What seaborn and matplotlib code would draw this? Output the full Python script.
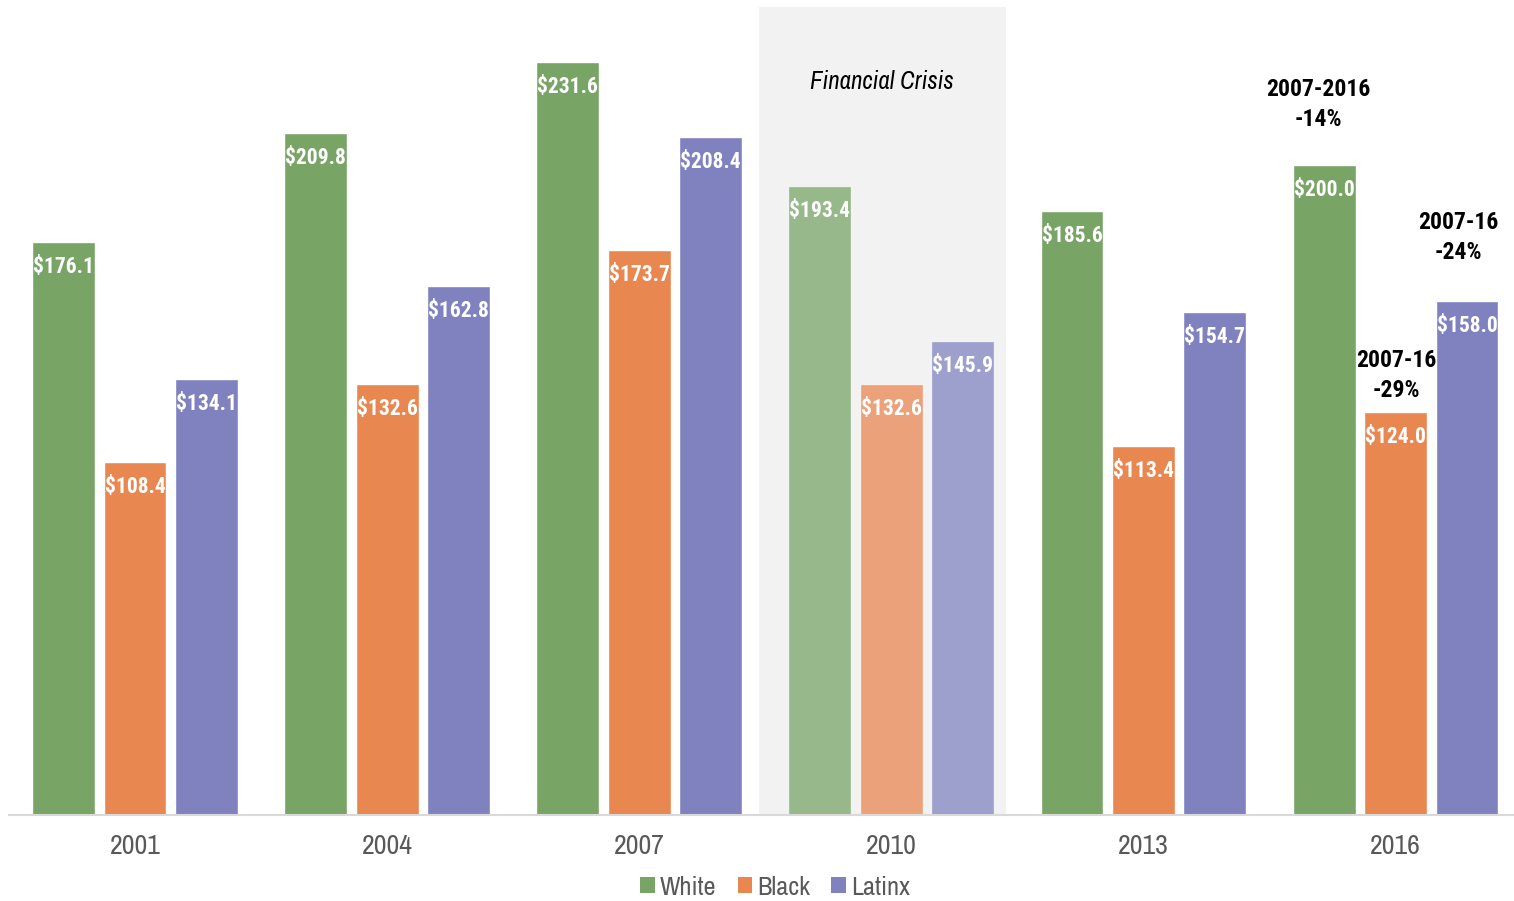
import matplotlib
matplotlib.use("Agg")
import matplotlib.pyplot as plt
from matplotlib.patches import Patch
import seaborn as sns
import pandas as pd

# Median household net worth by group ($ thousands)
years = ["2001", "2004", "2007", "2010", "2013", "2016"]
groups = ["White", "Black", "Latinx"]
white = [176.1, 209.8, 231.6, 193.4, 185.6, 200.0]
black = [108.4, 132.6, 173.7, 132.6, 113.4, 124.0]
latinx = [134.1, 162.8, 208.4, 145.9, 154.7, 158.0]
colors = ["#78A466", "#E98751", "#7F82BF"]
crisis_year = "2010"
crisis_label = "Financial Crisis"
change_labels = ["2007-2016", "2007-16", "2007-16"]

df = pd.DataFrame({
    "year": years * 3,
    "group": [g for g in groups for _ in years],
    "value": white + black + latinx,
})

sns.set_theme(style="white")
plt.rcParams["font.family"] = ["Archivo Narrow", "Roboto Condensed", "DejaVu Sans"]
BOLD = ["Roboto Condensed", "DejaVu Sans"]

fig = plt.figure(figsize=(15.14, 9.01), dpi=100)
ax = fig.add_axes([9 / 1514, 86 / 901, 1505 / 1514, 813 / 901])

# shaded band behind the crisis year
ax.axvspan(2.475, 3.455, ymax=248.5 / 250, color="#F2F2F2", lw=0, zorder=0)

sns.barplot(data=df, x="year", y="value", hue="group", palette=colors,
            width=0.85, gap=0.12, saturation=1, ax=ax, zorder=2, legend=False)

ci = years.index(crisis_year)
for container in ax.containers:
    for i, bar in enumerate(container):
        if i == ci:
            bar.set_alpha(0.74)
        h = bar.get_height()
        ax.annotate(f"${h:.1f}", (bar.get_x() + bar.get_width() / 2, h),
                    xytext=(0, -25), textcoords="offset pixels",
                    ha="center", va="center", color="white",
                    family=BOLD, fontweight="bold", fontsize=15.5, zorder=5)

# 2007 -> 2016 change for each group
i07, i16 = years.index("2007"), years.index("2016")
offsets = [(-6, 60), (1, 36), (-9, 64)]
for container, lab, (dx, dy) in zip(ax.containers, change_labels, offsets):
    b07, b16 = container[i07], container[i16]
    pct = (b16.get_height() - b07.get_height()) / b07.get_height()
    ax.annotate(f"{lab}\n{pct:.0%}",
                (b16.get_x() + b16.get_width() / 2, b16.get_height()),
                xytext=(dx, dy), textcoords="offset pixels",
                ha="center", va="center", color="black",
                family=BOLD, fontweight="bold", fontsize=17,
                linespacing=1.4, zorder=5)

ax.text(2.962, 225.5, crisis_label, ha="center", va="center",
        fontsize=18, fontstyle="italic", color="black")

ax.set_xlim(-0.5, 5.47)
ax.set_ylim(0, 250)
ax.set_xlabel("")
ax.set_ylabel("")
ax.set_yticks([])
for side in ["left", "right", "top"]:
    ax.spines[side].set_visible(False)
ax.spines["bottom"].set_color("#D9D9D9")
ax.spines["bottom"].set_linewidth(1.5)
ax.tick_params(axis="x", length=0, pad=14, labelsize=20, labelcolor="#595959")

handles = [Patch(facecolor=c, edgecolor="none") for c in colors]
fig.legend(handles, groups, loc="center", bbox_to_anchor=(0.512, 0.0155),
           ncol=3, frameon=False, fontsize=19, labelcolor="#595959",
           handlelength=0.55, handleheight=0.55, handletextpad=0.2,
           columnspacing=0.8, borderpad=0)

fig.savefig("out.png", dpi=100)
